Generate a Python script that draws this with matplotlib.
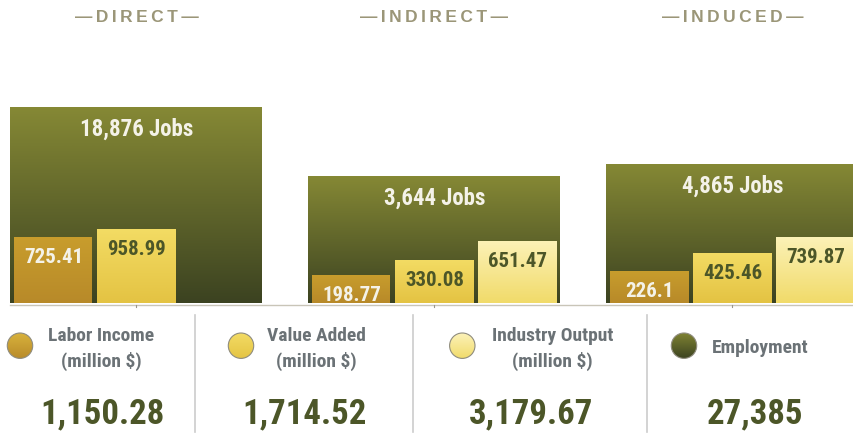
import numpy as np
import matplotlib
matplotlib.use('Agg')
import matplotlib.pyplot as plt
from matplotlib import font_manager
from matplotlib.colors import LinearSegmentedColormap
from matplotlib.patches import Circle

# ---------------- data ----------------
groups = ['DIRECT', 'INDIRECT', 'INDUCED']
jobs = [18876, 3644, 4865]
labor_income = [725.41, 198.77, 226.1]
value_added = [958.99, 330.08, 425.46]
industry_output = [np.nan, 651.47, 739.87]
legend_labels = [['Labor Income', '(million $)'], ['Value Added', '(million $)'],
                 ['Industry Output', '(million $)'], ['Employment']]
totals = ['1,150.28', '1,714.52', '3,179.67', '27,385']

# ---------------- fonts ----------------
fl = font_manager.fontManager.ttflist
def has_bold(name, stretch=None):
    for f in fl:
        if f.name == name and f.style == 'normal' and int(f.weight) >= 600:
            if stretch is None or f.stretch == stretch:
                return True
    return False

NARROW, NSTRETCH = ['DejaVu Sans'], 'condensed'
for cand in ['Roboto Condensed', 'Fira Sans Condensed', 'IBM Plex Sans Condensed',
             'Barlow Semi Condensed', 'PT Sans Narrow', 'Archivo Narrow',
             'Liberation Sans Narrow', 'Encode Sans Condensed', 'Asap Condensed',
             'Open Sans Condensed']:
    if has_bold(cand):
        NARROW, NSTRETCH = [cand, 'DejaVu Sans'], 'normal'
        break
else:
    if has_bold('Open Sans', 'condensed'):
        NARROW, NSTRETCH = ['Open Sans', 'DejaVu Sans'], 'condensed'
WIDE = ['Liberation Sans', 'DejaVu Sans']

# ---------------- colours ----------------
JOB_TOP, JOB_BOT = '#868935', '#3c4321'
LAB_TOP, LAB_BOT = '#c89d2d', '#b88a29'
VAL_TOP, VAL_BOT = '#f3dc64', '#e4c343'
OUT_TOP, OUT_BOT = '#fcf2b8', '#f1db6a'
LIGHT_TXT = '#f4f2e8'
DARK_TXT = '#4c5628'
HEAD_COL = '#9b9678'
LEG_COL = '#6b7276'

W, H = 854, 434
fig = plt.figure(figsize=(W / 100, H / 100), dpi=100)
fig.patch.set_facecolor('white')

base_px = 303.5
ax = fig.add_axes([0, (H - base_px) / H, 1, base_px / H])
ax.set_yscale('log')
ax.set_ylim(173.1, 239600)
ax2 = ax.twinx()
ax2.set_yscale('log')
ax2.set_ylim(74.8, 2.566e6)

step = 298.0
c0 = 136.5
ax.set_xlim(-c0 / step, (W - c0) / step)
for a in (ax, ax2):
    a.axis('off')
    a.patch.set_visible(False)

x = np.arange(len(groups))
rect_w = 253 / step
bar_w = 79 / step
off = 83 / step

TXT = dict(family=NARROW, fontstretch=NSTRETCH, fontweight='bold')


def grad_fill(axis, patch, c_top, c_bot, z):
    x0, y0 = patch.get_x(), patch.get_y()
    w, h = patch.get_width(), patch.get_height()
    y1 = y0 + h
    ys = np.linspace(y0, y1, 3000)
    t = (np.log(ys) - np.log(y0)) / (np.log(y1) - np.log(y0))
    cmap = LinearSegmentedColormap.from_list('g', [c_bot, c_top])
    im = axis.imshow(t.reshape(-1, 1), cmap=cmap, origin='lower', vmin=0, vmax=1,
                     extent=[x0, x0 + w, y0, y1], aspect='auto', zorder=z,
                     interpolation='bilinear')
    im.set_clip_path(patch)
    patch.set_facecolor('none')


# employment rectangles
floor1 = ax.get_ylim()[0]
rects = ax.bar(x, np.array(jobs) - floor1, bottom=floor1, width=rect_w,
               color=JOB_BOT, linewidth=0, zorder=1)
for p in rects:
    grad_fill(ax, p, JOB_TOP, JOB_BOT, 1)
for xi, v in zip(x, jobs):
    ax.annotate(f'{v:,} Jobs', xy=(xi, v), xytext=(0, -28.8), textcoords='offset pixels',
                ha='center', va='baseline', color=LIGHT_TXT, fontsize=16.5, zorder=5, **TXT)

# economic bars
floor2 = ax2.get_ylim()[0]
series = [(labor_income, -off, LAB_TOP, LAB_BOT, LIGHT_TXT),
          (value_added, 0, VAL_TOP, VAL_BOT, DARK_TXT),
          (industry_output, off, OUT_TOP, OUT_BOT, DARK_TXT)]
for vals, dx, ct, cb, tc in series:
    vals = np.array(vals, dtype=float)
    mask = ~np.isnan(vals)
    bars = ax2.bar(x[mask] + dx, vals[mask] - floor2, bottom=floor2, width=bar_w,
                   color=cb, linewidth=0, zorder=2)
    for p in bars:
        grad_fill(ax2, p, ct, cb, 2)
    for xi, v in zip(x[mask] + dx, vals[mask]):
        ax2.annotate(f'{v:g}', xy=(xi, v), xytext=(0, -26), textcoords='offset pixels',
                     ha='center', va='baseline', color=tc, fontsize=15, zorder=5, **TXT)
ax.set_xlim(-c0 / step, (W - c0) / step)

# ---------------- overlay (pixel coords) ----------------
ov = fig.add_axes([0, 0, 1, 1], zorder=10)
ov.set_xlim(0, W)
ov.set_ylim(H, 0)
ov.axis('off')
ov.patch.set_visible(False)

# headers
for i, g in enumerate(groups):
    cx = c0 + i * step
    ov.text(cx, 22, '\u2009'.join('—' + g + '—'), ha='center', va='baseline',
            color=HEAD_COL, fontsize=12.5, family=WIDE, fontweight='bold')

# baseline with ticks
ov.plot([10, W], [304.5, 304.5], color='#c9c5b8', lw=1.0, zorder=1)
for i in range(3):
    cx = c0 + i * step
    ov.plot([cx, cx], [304.5, 307], color='#9a968a', lw=0.8)

# separators
for sx in [195.5, 413, 647]:
    ov.plot([sx, sx], [315, 432], color='#cccccc', lw=1.2)

# legend
circ = [(20, '#d8b23c', LAB_BOT), (241, VAL_TOP, VAL_BOT), (462.3, OUT_TOP, OUT_BOT),
        (684, '#7e8232', JOB_BOT)]
cy = 345.7
label_cx = [101, 316.7, 552.8, 760]
total_cx = [102.6, 305, 531, 755]
for (ccx, ct, cb), lab, lcx, tot, tcx in zip(circ, legend_labels, label_cx, totals, total_cx):
    c = Circle((ccx, cy), 12.7, facecolor='none', edgecolor='#8f8c7e', lw=0.8, zorder=3)
    ov.add_patch(c)
    cmap = LinearSegmentedColormap.from_list('g', [ct, cb])
    im = ov.imshow(np.linspace(0, 1, 64).reshape(-1, 1), cmap=cmap, aspect='auto',
                   extent=[ccx - 13, ccx + 13, cy + 13, cy - 13], zorder=2,
                   interpolation='bilinear')
    im.set_clip_path(c)
    if len(lab) == 2:
        ov.text(lcx, 341, lab[0], ha='center', va='baseline', color=LEG_COL, fontsize=14, **TXT)
        ov.text(lcx, 366.5, lab[1], ha='center', va='baseline', color=LEG_COL, fontsize=14, **TXT)
    else:
        ov.text(lcx, 353.3, lab[0], ha='center', va='baseline', color=LEG_COL, fontsize=14, **TXT)
    ov.text(tcx, 423.3, tot, ha='center', va='baseline', color=DARK_TXT, fontsize=25, **TXT)
ov.set_xlim(0, W)
ov.set_ylim(H, 0)

fig.savefig('out.png', dpi=100)
